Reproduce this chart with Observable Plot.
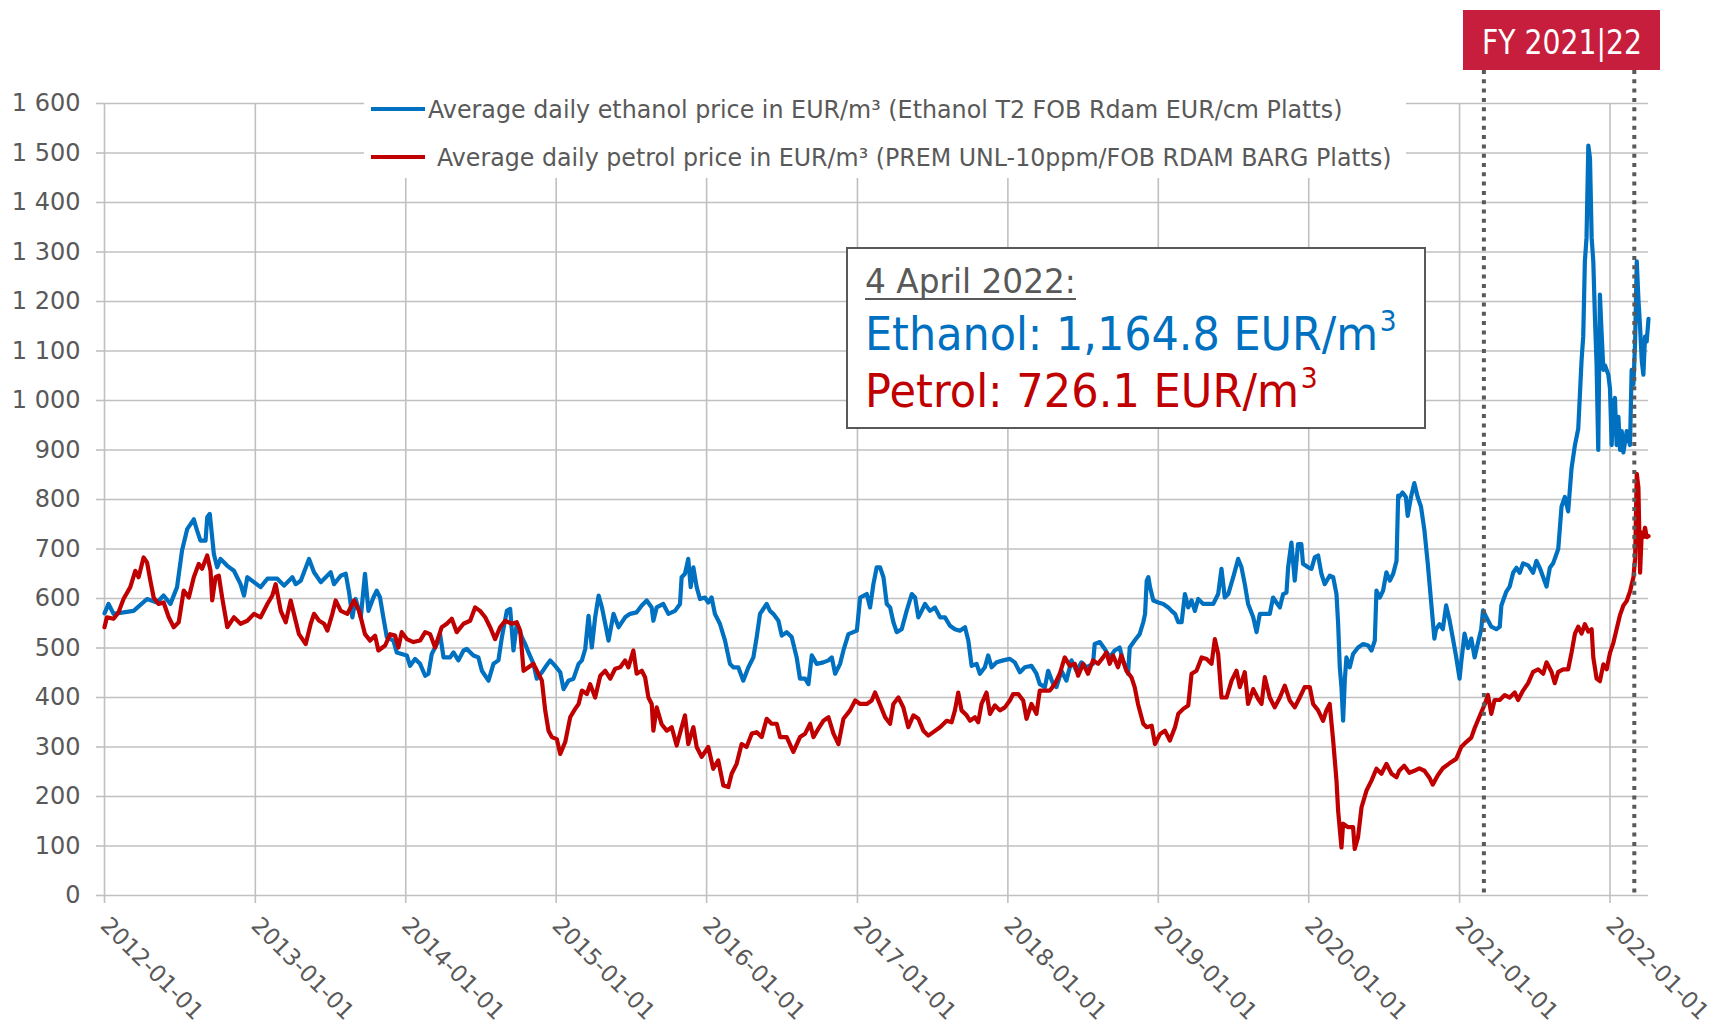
<!DOCTYPE html>
<html><head><meta charset="utf-8">
<script src="https://cdn.jsdelivr.net/npm/d3@7"></script>
<script src="https://cdn.jsdelivr.net/npm/@observablehq/plot@0.6"></script>
<style>
html,body{margin:0;padding:0;background:#fff;}
#chart{position:relative;width:1713px;height:1030px;}
</style></head><body><div id="chart"></div>
<script>
// ---- values ----
const yTicks = [0,100,200,300,400,500,600,700,800,900,1000,1100,1200,1300,1400,1500,1600];
const xTickLabels = ["2012-01-01","2013-01-01","2014-01-01","2015-01-01","2016-01-01","2017-01-01","2018-01-01","2019-01-01","2020-01-01","2021-01-01","2022-01-01"];
const fyBounds = ["2021-03-01","2022-03-01"];
const fyLabel = "FY 2021|22";
const seriesNames = ["Average daily ethanol price in EUR/m³ (Ethanol T2 FOB Rdam EUR/cm Platts)",
                     "Average daily petrol price in EUR/m³ (PREM UNL-10ppm/FOB RDAM BARG Platts)"];
const seriesColors = ["#0070C0","#C00000"];
const noteDate = "4 April 2022:";
const noteEthanol = "Ethanol: 1,164.8 EUR/m³";
const notePetrol = "Petrol: 726.1 EUR/m³";

// [decimal year, EUR/m³]
const ethanolSeries = [
[2012.000,570],[2012.027,589],[2012.060,569],[2012.193,575],[2012.282,599],[2012.348,592],[2012.392,606],[2012.437,589],[2012.481,623],[2012.514,697],[2012.548,740],[2012.592,760],[2012.614,737],[2012.636,717],[2012.670,717],[2012.681,764],[2012.698,771],[2012.725,690],[2012.747,663],[2012.769,680],[2012.814,666],[2012.858,656],[2012.902,629],[2012.925,606],[2012.947,643],[2012.991,633],
[2013.035,623],[2013.080,640],[2013.146,640],[2013.191,626],[2013.246,643],[2013.268,629],[2013.302,636],[2013.357,680],[2013.390,653],[2013.435,633],[2013.501,653],[2013.523,629],[2013.568,646],[2013.601,650],[2013.623,613],[2013.645,562],[2013.667,599],[2013.701,562],[2013.729,650],[2013.752,575],[2013.785,602],[2013.807,616],[2013.829,602],[2013.851,562],[2013.874,522],[2013.918,515],[2013.940,491],[2013.973,488],
[2014.007,485],[2014.029,464],[2014.062,478],[2014.095,468],[2014.129,444],[2014.151,448],[2014.173,488],[2014.206,508],[2014.228,528],[2014.251,481],[2014.295,481],[2014.317,491],[2014.350,475],[2014.384,495],[2014.406,498],[2014.450,485],[2014.483,481],[2014.506,454],[2014.550,434],[2014.583,468],[2014.616,475],[2014.639,522],[2014.672,575],[2014.694,579],[2014.716,495],[2014.738,549],[2014.772,522],[2014.794,508],[2014.816,491],[2014.849,468],[2014.871,438],[2014.905,451],[2014.927,461],[2014.960,475],[2014.993,464],
[2015.027,451],[2015.049,417],[2015.082,434],[2015.115,438],[2015.149,468],[2015.171,475],[2015.193,498],[2015.215,565],[2015.237,501],[2015.259,562],[2015.282,606],[2015.304,582],[2015.326,549],[2015.348,515],[2015.381,569],[2015.415,542],[2015.458,562],[2015.491,569],[2015.535,572],[2015.569,586],[2015.602,596],[2015.635,582],[2015.646,555],[2015.668,582],[2015.712,589],[2015.746,569],[2015.790,575],[2015.823,589],[2015.834,643],[2015.856,650],[2015.878,680],[2015.894,623],[2015.912,663],[2015.934,623],[2015.956,599],[2015.989,602],
[2016.011,592],[2016.033,602],[2016.055,569],[2016.088,549],[2016.122,515],[2016.155,468],[2016.177,461],[2016.210,461],[2016.243,434],[2016.277,461],[2016.310,481],[2016.332,522],[2016.354,569],[2016.398,589],[2016.420,575],[2016.442,569],[2016.476,555],[2016.498,525],[2016.531,532],[2016.564,522],[2016.597,481],[2016.619,438],[2016.653,438],[2016.675,427],[2016.697,485],[2016.730,468],[2016.774,471],[2016.808,475],[2016.830,481],[2016.852,448],[2016.885,468],[2016.907,495],[2016.940,528],[2016.996,535],
[2017.018,602],[2017.062,609],[2017.084,582],[2017.106,629],[2017.128,663],[2017.150,663],[2017.173,643],[2017.195,589],[2017.217,582],[2017.239,552],[2017.261,532],[2017.294,538],[2017.327,575],[2017.361,609],[2017.383,602],[2017.405,562],[2017.427,575],[2017.449,589],[2017.482,575],[2017.515,582],[2017.549,562],[2017.582,562],[2017.615,545],[2017.648,538],[2017.681,535],[2017.715,542],[2017.737,515],[2017.759,464],[2017.792,468],[2017.814,448],[2017.847,461],[2017.869,485],[2017.892,461],[2017.925,471],[2017.969,475],
[2018.013,478],[2018.046,471],[2018.080,451],[2018.113,461],[2018.157,464],[2018.190,448],[2018.212,427],[2018.246,421],[2018.268,454],[2018.301,427],[2018.323,421],[2018.356,454],[2018.389,434],[2018.423,475],[2018.456,454],[2018.489,471],[2018.522,461],[2018.566,468],[2018.577,508],[2018.611,512],[2018.644,498],[2018.677,481],[2018.710,495],[2018.743,501],[2018.765,475],[2018.799,448],[2018.810,501],[2018.843,515],[2018.876,528],[2018.900,552],[2018.912,569],[2018.923,636],[2018.934,643],[2018.945,623],[2018.967,596],
[2019.000,592],[2019.033,589],[2019.066,582],[2019.088,575],[2019.111,569],[2019.133,552],[2019.155,552],[2019.177,609],[2019.199,582],[2019.221,596],[2019.243,575],[2019.265,599],[2019.299,589],[2019.332,589],[2019.365,589],[2019.398,609],[2019.420,660],[2019.442,602],[2019.465,609],[2019.498,643],[2019.531,680],[2019.553,663],[2019.575,629],[2019.597,589],[2019.631,562],[2019.653,532],[2019.675,569],[2019.708,569],[2019.741,569],[2019.763,602],[2019.785,592],[2019.808,582],[2019.830,609],[2019.852,612],[2019.863,663],[2019.885,713],[2019.907,636],[2019.929,710],[2019.951,710],[2019.962,670],[2019.996,663],
[2020.018,660],[2020.040,683],[2020.062,687],[2020.084,650],[2020.106,629],[2020.139,646],[2020.162,643],[2020.184,609],[2020.195,549],[2020.206,461],[2020.217,421],[2020.228,353],[2020.239,434],[2020.250,481],[2020.272,461],[2020.294,488],[2020.327,501],[2020.361,508],[2020.394,505],[2020.416,495],[2020.438,515],[2020.449,616],[2020.471,602],[2020.493,616],[2020.515,653],[2020.538,636],[2020.560,650],[2020.582,676],[2020.593,808],[2020.600,805],[2020.622,814],[2020.644,805],[2020.656,767],[2020.678,805],[2020.700,833],[2020.722,805],[2020.744,786],[2020.767,738],[2020.789,671],[2020.811,595],[2020.833,519],[2020.844,538],[2020.867,548],[2020.889,538],[2020.911,586],[2020.933,557],[2020.956,519],[2020.978,481],
[2021.000,438],[2021.011,471],[2021.033,529],[2021.056,500],[2021.078,519],[2021.100,481],[2021.122,510],[2021.144,538],[2021.156,576],[2021.178,562],[2021.211,543],[2021.244,538],[2021.267,543],[2021.278,586],[2021.311,614],[2021.333,624],[2021.356,652],[2021.378,662],[2021.400,652],[2021.422,671],[2021.456,667],[2021.489,652],[2021.511,676],[2021.533,662],[2021.556,643],[2021.578,624],[2021.600,662],[2021.622,671],[2021.656,700],[2021.678,786],[2021.700,805],[2021.722,776],[2021.744,862],[2021.767,910],[2021.789,943],[2021.811,1081],[2021.822,1129],[2021.833,1281],[2021.844,1329],[2021.856,1515],[2021.867,1490],[2021.878,1329],[2021.889,1281],[2021.900,1167],[2021.911,1071],[2021.922,900],[2021.933,1214],[2021.944,1138],[2021.956,1062],[2021.967,1071],[2021.989,1052],
[2022.000,1024],[2022.011,910],[2022.022,995],[2022.033,1005],[2022.044,910],[2022.056,967],[2022.067,900],[2022.078,938],[2022.089,895],[2022.111,938],[2022.133,910],[2022.144,1062],[2022.156,1033],[2022.167,1119],[2022.178,1281],[2022.189,1205],[2022.200,1148],[2022.211,1081],[2022.222,1052],[2022.233,1129],[2022.244,1119],[2022.256,1164.8]
];

const petrolSeries = [
[2012.000,542],[2012.016,562],[2012.060,559],[2012.093,572],[2012.126,599],[2012.171,623],[2012.204,656],[2012.226,643],[2012.259,683],[2012.282,673],[2012.304,636],[2012.326,602],[2012.359,589],[2012.392,592],[2012.426,562],[2012.459,542],[2012.492,552],[2012.525,616],[2012.559,602],[2012.592,643],[2012.625,670],[2012.647,660],[2012.681,687],[2012.703,656],[2012.714,596],[2012.736,643],[2012.758,646],[2012.780,602],[2012.814,542],[2012.858,562],[2012.902,549],[2012.947,555],[2012.991,569],
[2013.035,562],[2013.080,589],[2013.113,606],[2013.135,629],[2013.169,575],[2013.202,552],[2013.235,596],[2013.268,555],[2013.290,528],[2013.335,508],[2013.368,549],[2013.390,569],[2013.424,555],[2013.457,549],[2013.479,535],[2013.512,569],[2013.534,596],[2013.568,575],[2013.612,569],[2013.656,596],[2013.690,575],[2013.729,528],[2013.763,515],[2013.796,525],[2013.818,495],[2013.863,505],[2013.896,528],[2013.929,525],[2013.951,501],[2013.973,532],
[2014.007,518],[2014.051,512],[2014.095,515],[2014.129,532],[2014.162,528],[2014.195,501],[2014.239,542],[2014.273,549],[2014.306,559],[2014.339,532],[2014.384,549],[2014.428,555],[2014.461,582],[2014.494,575],[2014.528,562],[2014.561,542],[2014.594,518],[2014.627,542],[2014.661,555],[2014.705,549],[2014.738,552],[2014.761,535],[2014.783,454],[2014.816,461],[2014.849,468],[2014.882,448],[2014.905,434],[2014.927,374],[2014.949,333],[2014.971,320],
[2015.004,316],[2015.027,286],[2015.060,310],[2015.093,360],[2015.126,377],[2015.149,387],[2015.171,414],[2015.204,407],[2015.226,427],[2015.259,400],[2015.293,444],[2015.326,454],[2015.359,438],[2015.392,458],[2015.426,461],[2015.458,475],[2015.480,461],[2015.513,495],[2015.535,448],[2015.569,454],[2015.591,441],[2015.613,400],[2015.635,387],[2015.646,333],[2015.668,380],[2015.701,346],[2015.735,333],[2015.768,340],[2015.801,303],[2015.834,340],[2015.856,364],[2015.878,306],[2015.912,340],[2015.934,300],[2015.967,280],
[2016.011,300],[2016.044,256],[2016.077,273],[2016.111,222],[2016.144,219],[2016.166,246],[2016.199,266],[2016.232,306],[2016.265,300],[2016.299,327],[2016.332,330],[2016.365,320],[2016.398,357],[2016.431,347],[2016.465,347],[2016.487,320],[2016.531,320],[2016.575,290],[2016.619,320],[2016.653,327],[2016.686,347],[2016.708,320],[2016.741,337],[2016.774,353],[2016.808,360],[2016.841,327],[2016.874,306],[2016.907,357],[2016.951,374],[2016.985,394],
[2017.018,387],[2017.062,387],[2017.095,394],[2017.117,410],[2017.139,394],[2017.184,360],[2017.217,347],[2017.239,387],[2017.272,400],[2017.305,380],[2017.338,340],[2017.372,364],[2017.405,357],[2017.438,333],[2017.471,323],[2017.504,330],[2017.549,340],[2017.593,353],[2017.626,350],[2017.648,374],[2017.670,410],[2017.692,374],[2017.726,364],[2017.748,353],[2017.781,360],[2017.803,350],[2017.825,387],[2017.858,410],[2017.881,367],[2017.914,384],[2017.947,374],[2017.980,380],
[2018.013,394],[2018.035,407],[2018.069,407],[2018.102,394],[2018.124,357],[2018.157,387],[2018.190,367],[2018.212,414],[2018.246,414],[2018.279,414],[2018.312,427],[2018.345,448],[2018.378,481],[2018.412,464],[2018.445,468],[2018.467,444],[2018.500,468],[2018.533,448],[2018.566,475],[2018.600,468],[2018.633,481],[2018.655,491],[2018.677,468],[2018.699,485],[2018.732,461],[2018.754,485],[2018.788,454],[2018.821,441],[2018.843,421],[2018.865,387],[2018.900,347],[2018.923,340],[2018.956,343],[2018.978,306],
[2019.011,326],[2019.044,333],[2019.077,313],[2019.111,340],[2019.133,367],[2019.166,377],[2019.199,384],[2019.221,448],[2019.254,454],[2019.288,481],[2019.321,478],[2019.354,468],[2019.376,518],[2019.398,488],[2019.420,400],[2019.454,400],[2019.487,434],[2019.520,454],[2019.542,421],[2019.575,451],[2019.597,387],[2019.631,417],[2019.664,397],[2019.686,387],[2019.708,441],[2019.741,400],[2019.774,380],[2019.808,400],[2019.841,424],[2019.874,394],[2019.907,380],[2019.940,400],[2019.973,421],
[2020.007,421],[2020.029,387],[2020.062,374],[2020.095,353],[2020.117,374],[2020.139,387],[2020.162,313],[2020.184,232],[2020.195,171],[2020.217,97],[2020.228,145],[2020.261,138],[2020.294,138],[2020.305,94],[2020.327,118],[2020.350,178],[2020.383,212],[2020.416,232],[2020.449,256],[2020.482,246],[2020.515,266],[2020.549,246],[2020.582,239],[2020.600,252],[2020.633,262],[2020.667,248],[2020.700,252],[2020.733,257],[2020.767,252],[2020.800,238],[2020.822,224],[2020.856,243],[2020.889,257],[2020.933,267],[2020.978,276],
[2021.011,300],[2021.044,310],[2021.078,319],[2021.100,338],[2021.133,362],[2021.167,386],[2021.189,405],[2021.211,367],[2021.233,395],[2021.267,395],[2021.300,405],[2021.333,400],[2021.367,410],[2021.389,395],[2021.422,414],[2021.456,429],[2021.489,452],[2021.522,457],[2021.556,448],[2021.578,471],[2021.611,452],[2021.633,429],[2021.656,452],[2021.689,457],[2021.722,457],[2021.744,490],[2021.767,529],[2021.789,543],[2021.811,529],[2021.833,548],[2021.856,533],[2021.878,538],[2021.889,481],[2021.911,438],[2021.933,433],[2021.956,467],[2021.978,457],
[2022.000,490],[2022.022,510],[2022.044,538],[2022.067,567],[2022.089,586],[2022.111,595],[2022.133,614],[2022.156,643],[2022.167,681],[2022.178,852],[2022.189,824],[2022.200,652],[2022.211,733],[2022.222,724],[2022.233,743],[2022.244,724],[2022.256,726.1]
];

// ---- helpers ----
function fromYear(t) {
  const y = Math.floor(t), a = Date.UTC(y, 0, 1), b = Date.UTC(y + 1, 0, 1);
  return new Date(a + (t - y) * (b - a));
}
const toRows = (s) => s.map(([t, v]) => ({date: fromYear(t), value: v}));
const ethanol = toRows(ethanolSeries);
const petrol = toRows(petrolSeries);
const xTicks = xTickLabels.map(d => new Date(d + "T00:00:00Z"));
const fyDates = fyBounds.map(d => new Date(d + "T00:00:00Z"));
const xDomain = [xTicks[0], d3.max(ethanol, d => d.date)];
const spaceFmt = d3.formatLocale({decimal: ".", thousands: "\u2009", grouping: [3], currency: ["", ""]}).format(",d");
const yFmt = v => spaceFmt(v).replace("\u2009", " ");
const grid = "#c0c0c0";
const ink = "#595959";
const FONT = "DejaVu Sans, sans-serif";

const plot = Plot.plot({
  width: 1713, height: 1030,
  marginLeft: 104, marginRight: 65, marginTop: 70, marginBottom: 135,
  style: {fontFamily: FONT, fontSize: "24px", color: ink, background: "#fff", overflow: "visible"},
  x: {type: "utc", domain: xDomain},
  y: {domain: [yTicks[0], yTicks[yTicks.length - 1]], insetTop: 33},
  marks: [
    Plot.ruleY(yTicks, {stroke: grid, strokeWidth: 1.6}),
    Plot.ruleX(xTicks, {y1: yTicks[0], y2: yTicks[yTicks.length - 1], stroke: grid, strokeWidth: 1.6}),
    Plot.axisY(yTicks, {tickSize: 8, tickPadding: 16, stroke: grid, strokeWidth: 1.6, fill: ink, tickFormat: yFmt, label: null}),
    Plot.axisX(xTicks, {tickSize: 8, tickPadding: 18, tickRotate: 45, fontSize: 23, stroke: grid, strokeWidth: 1.6, fill: ink, tickFormat: d3.utcFormat("%Y-%m-%d"), label: null}),
    Plot.line(ethanol, {x: "date", y: "value", stroke: seriesColors[0], strokeWidth: 4.2, strokeLinejoin: "round"}),
    Plot.line(petrol, {x: "date", y: "value", stroke: seriesColors[1], strokeWidth: 4.2, strokeLinejoin: "round"}),
    Plot.ruleX(fyDates, {stroke: ink, strokeWidth: 4, strokeDasharray: "4,5.3"})
  ]
});
document.getElementById("chart").appendChild(plot);

// ---- legend, note box and FY tag (layout decorations) ----
const svg = d3.select(plot);
const deco = svg.append("g").attr("font-family", FONT).attr("text-anchor", "start");

// fit a text horizontally to a target width by scaling it (keeps tspans together)
function fitText(sel, x, y, w) {
  const natural = sel.node().getComputedTextLength();
  sel.attr("x", 0).attr("y", 0).attr("transform", `translate(${x},${y}) scale(${w / natural},1)`);
  return sel;
}

const leg = deco.append("g");
leg.append("rect").attr("x", 364).attr("y", 84).attr("width", 1042).attr("height", 94).attr("fill", "#fff");
const legRows = [{y: 109, tx: 428, w: 915}, {y: 157, tx: 437, w: 955}];
seriesNames.forEach((name, i) => {
  const r = legRows[i];
  leg.append("line").attr("x1", 371).attr("x2", 425).attr("y1", r.y).attr("y2", r.y)
    .attr("stroke", seriesColors[i]).attr("stroke-width", 4);
  const t = leg.append("text").attr("font-size", 25).attr("fill", ink).attr("text-anchor", "start").text(name);
  fitText(t, r.tx, r.y + 9, r.w);
});

const note = deco.append("g");
note.append("rect").attr("x", 847).attr("y", 248).attr("width", 578).attr("height", 180)
  .attr("fill", "#fff").attr("stroke", ink).attr("stroke-width", 2);
const dt = note.append("text").attr("font-size", 34).attr("fill", ink).attr("text-anchor", "start").text(noteDate);
fitText(dt, 865, 293, 211);
note.append("line").attr("x1", 865).attr("x2", 1076).attr("y1", 299).attr("y2", 299)
  .attr("stroke", ink).attr("stroke-width", 2);
function noteLine(str, y, w, color) {
  const [main] = str.split("³");
  const t = note.append("text").attr("font-size", 47).attr("fill", color).attr("text-anchor", "start");
  t.append("tspan").text(main);
  t.append("tspan").attr("dy", -19).attr("dx", 2).attr("font-size", 29).text("3");
  fitText(t, 865, y, w);
}
noteLine(noteEthanol, 350, 530, seriesColors[0]);
noteLine(notePetrol, 407, 451, seriesColors[1]);

const fy = deco.append("g");
fy.append("rect").attr("x", 1463).attr("y", 10).attr("width", 197).attr("height", 60).attr("fill", "#C71E3D");
const fyt = fy.append("text").attr("font-size", 33).attr("fill", "#fff").attr("text-anchor", "start").text(fyLabel);
fitText(fyt, 1482, 54, 160);
</script>
</body></html>
